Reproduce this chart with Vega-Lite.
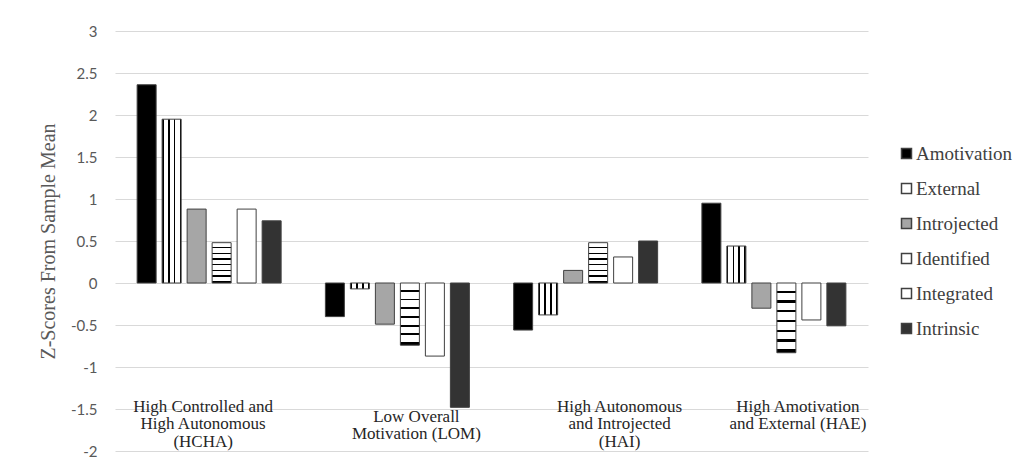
{
  "$schema": "https://vega.github.io/schema/vega-lite/v6.json",
  "width": 753,
  "height": 420,
  "autosize": {"type": "none"},
  "padding": {"left": 115, "top": 31, "right": 154, "bottom": 24},
  "background": "white",
  "config": {"view": {"stroke": null}},
  "data": {
    "values": [
      {"group": "High Controlled and High Autonomous (HCHA)", "type": "Amotivation", "value": 2.36},
      {"group": "High Controlled and High Autonomous (HCHA)", "type": "External", "value": 1.95},
      {"group": "High Controlled and High Autonomous (HCHA)", "type": "Introjected", "value": 0.88},
      {"group": "High Controlled and High Autonomous (HCHA)", "type": "Identified", "value": 0.48},
      {"group": "High Controlled and High Autonomous (HCHA)", "type": "Integrated", "value": 0.88},
      {"group": "High Controlled and High Autonomous (HCHA)", "type": "Intrinsic", "value": 0.74},
      {"group": "Low Overall Motivation (LOM)", "type": "Amotivation", "value": -0.40},
      {"group": "Low Overall Motivation (LOM)", "type": "External", "value": -0.07},
      {"group": "Low Overall Motivation (LOM)", "type": "Introjected", "value": -0.49},
      {"group": "Low Overall Motivation (LOM)", "type": "Identified", "value": -0.74},
      {"group": "Low Overall Motivation (LOM)", "type": "Integrated", "value": -0.87},
      {"group": "Low Overall Motivation (LOM)", "type": "Intrinsic", "value": -1.48},
      {"group": "High Autonomous and Introjected (HAI)", "type": "Amotivation", "value": -0.56},
      {"group": "High Autonomous and Introjected (HAI)", "type": "External", "value": -0.38},
      {"group": "High Autonomous and Introjected (HAI)", "type": "Introjected", "value": 0.15},
      {"group": "High Autonomous and Introjected (HAI)", "type": "Identified", "value": 0.48},
      {"group": "High Autonomous and Introjected (HAI)", "type": "Integrated", "value": 0.31},
      {"group": "High Autonomous and Introjected (HAI)", "type": "Intrinsic", "value": 0.50},
      {"group": "High Amotivation and External (HAE)", "type": "Amotivation", "value": 0.95},
      {"group": "High Amotivation and External (HAE)", "type": "External", "value": 0.44},
      {"group": "High Amotivation and External (HAE)", "type": "Introjected", "value": -0.30},
      {"group": "High Amotivation and External (HAE)", "type": "Identified", "value": -0.83},
      {"group": "High Amotivation and External (HAE)", "type": "Integrated", "value": -0.44},
      {"group": "High Amotivation and External (HAE)", "type": "Intrinsic", "value": -0.51}
    ]
  },
  "mark": {"type": "bar", "stroke": "#404040", "strokeWidth": 1},
  "encoding": {
    "x": {
      "field": "group",
      "type": "nominal",
      "sort": null,
      "scale": {"paddingInner": 0, "paddingOuter": 0},
      "axis": {
        "title": null,
        "domain": false,
        "ticks": false,
        "grid": false,
        "labelAngle": 0,
        "labelAlign": "center",
        "labelBaseline": "top",
        "labelPadding": {"condition": {"test": "datum.value === 'Low Overall Motivation (LOM)'", "value": -43}, "value": -53},
        "labelOffset": {"condition": [
          {"test": "datum.value === 'High Controlled and High Autonomous (HCHA)'", "value": -6},
          {"test": "datum.value === 'Low Overall Motivation (LOM)'", "value": 19},
          {"test": "datum.value === 'High Autonomous and Introjected (HAI)'", "value": 34}
        ], "value": 24},
        "labelOverlap": false,
        "labelLimit": 0,
        "labelFont": "Liberation Serif, Times New Roman, serif",
        "labelFontSize": 17,
        "labelLineHeight": 17.5,
        "labelColor": "#262626",
        "labelExpr": "datum.value == 'High Controlled and High Autonomous (HCHA)' ? ['High Controlled and','High Autonomous','(HCHA)'] : datum.value == 'Low Overall Motivation (LOM)' ? ['Low Overall','Motivation (LOM)'] : datum.value == 'High Autonomous and Introjected (HAI)' ? ['High Autonomous','and Introjected','(HAI)'] : ['High Amotivation','and External (HAE)']"
      }
    },
    "xOffset": {
      "field": "type",
      "type": "nominal",
      "sort": ["Amotivation", "External", "Introjected", "Identified", "Integrated", "Intrinsic"],
      "scale": {"paddingInner": 0.24, "paddingOuter": 0.885}
    },
    "y": {
      "field": "value",
      "type": "quantitative",
      "scale": {"domain": [-2, 3], "nice": false, "zero": false},
      "axis": {
        "title": "Z-Scores From Sample Mean",
        "titleFont": "Liberation Serif, Times New Roman, serif",
        "titleFontSize": 20,
        "titleFontWeight": "normal",
        "titleColor": "#595959",
        "titlePadding": 12,
        "values": [-2, -1.5, -1, -0.5, 0, 0.5, 1, 1.5, 2, 2.5, 3],
        "labelExpr": "'' + datum.value",
        "domain": false,
        "ticks": false,
        "labelPadding": 18,
        "labelFont": "Lato",
        "labelFontSize": 15,
        "labelColor": "#595959",
        "gridColor": "#d9d9d9",
        "gridWidth": 1
      }
    },
    "fill": {
      "condition": [
        {"test": "datum.type === 'External'", "value": {"gradient": "linear", "x1": 0, "y1": 0, "x2": 1, "y2": 0, "stops": [
            {"offset": 0, "color": "#000000"}, {"offset": 0.08, "color": "#000000"},
            {"offset": 0.08, "color": "#ffffff"}, {"offset": 0.3, "color": "#ffffff"},
            {"offset": 0.3, "color": "#000000"}, {"offset": 0.4, "color": "#000000"},
            {"offset": 0.4, "color": "#ffffff"}, {"offset": 0.6, "color": "#ffffff"},
            {"offset": 0.6, "color": "#000000"}, {"offset": 0.7, "color": "#000000"},
            {"offset": 0.7, "color": "#ffffff"}, {"offset": 0.92, "color": "#ffffff"},
            {"offset": 0.92, "color": "#000000"}, {"offset": 1, "color": "#000000"}
          ]}},
        {"test": "datum.type === 'Identified'", "value": {"gradient": "linear", "x1": 0, "y1": 0, "x2": 0, "y2": 1, "stops": [
            {"offset": 0, "color": "#ffffff"}, {"offset": 0.11, "color": "#ffffff"},
            {"offset": 0.11, "color": "#000000"}, {"offset": 0.14, "color": "#000000"},
            {"offset": 0.14, "color": "#ffffff"}, {"offset": 0.25, "color": "#ffffff"},
            {"offset": 0.25, "color": "#000000"}, {"offset": 0.28, "color": "#000000"},
            {"offset": 0.28, "color": "#ffffff"}, {"offset": 0.39, "color": "#ffffff"},
            {"offset": 0.39, "color": "#000000"}, {"offset": 0.42, "color": "#000000"},
            {"offset": 0.42, "color": "#ffffff"}, {"offset": 0.53, "color": "#ffffff"},
            {"offset": 0.53, "color": "#000000"}, {"offset": 0.56, "color": "#000000"},
            {"offset": 0.56, "color": "#ffffff"}, {"offset": 0.67, "color": "#ffffff"},
            {"offset": 0.67, "color": "#000000"}, {"offset": 0.7, "color": "#000000"},
            {"offset": 0.7, "color": "#ffffff"}, {"offset": 0.81, "color": "#ffffff"},
            {"offset": 0.81, "color": "#000000"}, {"offset": 0.84, "color": "#000000"},
            {"offset": 0.84, "color": "#ffffff"}, {"offset": 0.95, "color": "#ffffff"},
            {"offset": 0.95, "color": "#000000"}, {"offset": 1, "color": "#000000"}
          ]}}
      ],
      "field": "type",
      "type": "nominal",
      "scale": {
        "domain": ["Amotivation", "External", "Introjected", "Identified", "Integrated", "Intrinsic"],
        "range": ["#000000", "#ffffff", "#a6a6a6", "#ffffff", "#ffffff", "#333333"]
      },
      "legend": {
        "title": null,
        "orient": "none",
        "legendX": 782,
        "legendY": 113,
        "symbolType": "square",
        "symbolSize": 100,
        "rowPadding": 15,
        "labelFont": "Liberation Serif, Times New Roman, serif",
        "labelFontSize": 19,
        "labelColor": "#404040",
        "labelOffset": 0
      }
    }
  }
}
